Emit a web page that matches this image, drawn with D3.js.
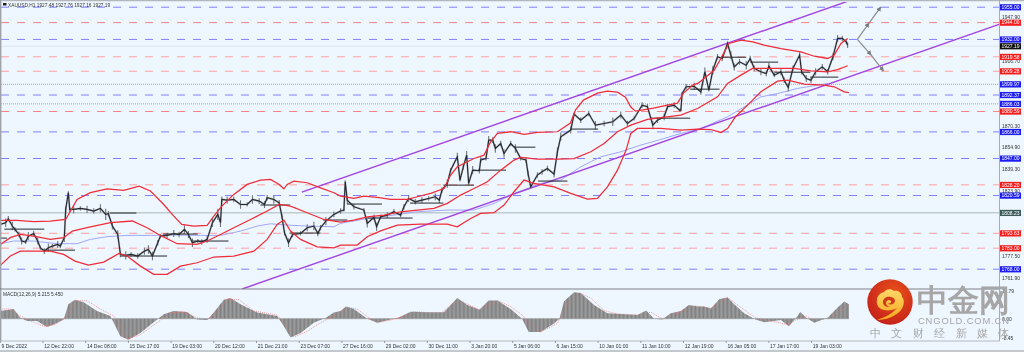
<!DOCTYPE html>
<html><head><meta charset="utf-8">
<script src="https://cdnjs.cloudflare.com/ajax/libs/d3/7.8.5/d3.min.js"></script>
<style>html,body{margin:0;padding:0;background:#eef7ff;overflow:hidden}svg{display:block;filter:blur(0.45px)}text{font-family:"Liberation Sans",sans-serif}</style>
</head><body><div id="c"></div>
<script>
// ---------- data ----------
const title = "XAUUSD,H1  1927.48 1927.76 1927.16 1927.19";
const macdTitle = "MACD(12,26,9) 5.215 5.450";
const timeLabels = ["9 Dec 2022","12 Dec 22:00","14 Dec 08:00","15 Dec 17:00","19 Dec 03:00","20 Dec 12:00","21 Dec 21:00","23 Dec 07:00","27 Dec 16:00","29 Dec 02:00","30 Dec 11:00","3 Jan 20:00","5 Jan 06:00","6 Jan 15:00","10 Jan 01:00","11 Jan 10:00","12 Jan 19:00","16 Jan 05:00","17 Jan 17:00","19 Jan 03:00"];
const timeLabelBars = [0,32,64,96,128,160,192,224,256,288,320,352,384,416,448,480,512,544,576,608];
const priceTicks = [1947.9,1916.7,1901.1,1870.3,1854.9,1839.3,1823.9,1777.5,1761.9];
const macdTicks = [11.79,0,-8.45];
const levelPrices = [1955,1944,1932,1919.58,1909.28,1899.97,1892.37,1886.03,1880.59,1866,1847,1828.2,1820.59,1808.23,1793.63,1783,1768];
const levelKinds  = ["b","r","b","rp","rp","d","bp","d","r","b","b","rp","b","g","rp","rp","b"];
const currentPrice = 1927.19;

const closeBars = [0,4,6,9,11,14,16,19,21,25,28,30,33,36,39,43,45,48,49,51,52,55,60,65,70,75,79,81,84,88,90,94,98,103,108,111,114,118,120,125,130,134,138,141,144,148,151,155,159,163,165,166,170,175,180,185,189,194,198,200,205,209,211,213,216,219,225,230,235,238,240,244,250,255,257.5,258.5,260,265,272.5,275,280,282,285,290,295,300,302.5,306,311,316,321,326,329,331,335,337.5,342.5,344.5,347,349.5,351,354,359,360,364,366,369,371,375,377.5,382.5,386,390,394,395.5,397.5,402.5,406,410,415,417.5,420,427.5,430,435,441,446,452.5,459,465,470,475,481,485,489,492.5,497.5,500,505,509,510,511,514,520,525,528,531,534,537.5,541,545,547.5,550,554,559,562,565,570,574,576,580,585,587.5,590.5,594,599,600.5,604,607.5,611,616,620,624,627.5,631,634,635];
const closeValues = [1800,1801.2,1804,1798.8,1796.4,1792.8,1788.1,1787.4,1791.6,1793.5,1788.1,1783.3,1780.9,1783.3,1784.5,1785.7,1784.5,1790.5,1810.7,1822.6,1810.7,1810.7,1811.4,1810.7,1809.5,1811.4,1807.1,1807.6,1798.8,1792.8,1778.6,1777.9,1778.6,1777.4,1780.9,1782.1,1777.4,1786.9,1791.6,1792.1,1793.5,1792.8,1796.4,1792.8,1786.9,1788.1,1787.4,1789.3,1801.2,1807.1,1801.2,1817.8,1817.3,1817.8,1814.2,1814.2,1817.8,1816.6,1814.2,1819,1817.8,1815.4,1805.9,1794,1786.9,1792.8,1793.5,1797.6,1798.8,1793.5,1797.6,1802.3,1807.1,1809.5,1810.2,1830.4,1817.3,1812.6,1810.2,1800.7,1805,1798.3,1805.4,1806.6,1809,1806.6,1812.6,1818.5,1816.1,1817.3,1818.5,1819.7,1817.3,1824.5,1829.2,1838.7,1848.2,1831.6,1841.1,1849.4,1829.2,1838.7,1838.3,1845.9,1847,1860.1,1860.1,1854.2,1857.7,1850.6,1857.7,1854.2,1847,1845.9,1836.3,1826.8,1835.2,1837.5,1839.9,1835.9,1851.8,1862.5,1867.3,1878.7,1874.4,1879.1,1870.8,1872,1873.2,1878,1872,1875.6,1885.1,1883.9,1870.8,1874.4,1876.8,1883.9,1885.1,1881.5,1881.5,1893.4,1898.2,1898.6,1894.6,1908.9,1895.8,1910,1919.6,1918.4,1929.1,1920.8,1912.4,1916,1913.6,1918.4,1911.3,1908.9,1907.7,1912.9,1906.5,1908.9,1902.9,1897.7,1911.3,1920.8,1908.9,1904.1,1902.9,1908.9,1912.4,1908.9,1919.6,1932.7,1932.7,1930.3,1927.9];
const wickRange = [2.5,3,2,3,1.5,2,2.5,1.5,3,2,2.5,1.5,2,3,1.5,2.5,1.5,3,2,1,2,3,1.5,2.5,2,3,4,2,2.5,3,2,3,1.5,2,2.5,3,3,2,1.5,2,2.5,2,3,2.5,3,1.5,2,2.5,3,4,3,2,2.5,2,3,1.5,3,2,2.5,2,3,2,1.5,2,3,2,1.5,2.5,3,2,2,3,2,2,1,1,3,2,1.5,3,2,3,1.5,2,2,1.5,2,2.5,2,2,1.5,2.5,2,2,3,1.5,3,1,2,3,1,3,2,2,1.5,3,2,3,2,3,2,3,1.5,2,2,1,2,2,2,2.5,3,3,2.5,1,2,2,3,2,3,2.5,2,1.5,2,2,3,2,2.5,2,2,1,1,1,2,2.5,2,3,1,3,2,2,1.5,3,2.5,2,3,2,2,2.5,2,2.5,1.5,2.5,2,3,2,2,2,2.5,2,2.5,2,2,2.5,2.5,2,1.5,2,2,1.5];

const upperBars = [0,12.5,25,37.5,49,57.5,67.5,80,92.5,104,112.5,122.5,130,136,145,155,160,166,175,185,195,202.5,209,212.5,215,220,230,240,250,255,265,272.5,282.5,292.5,305,312.5,322.5,332.5,337.5,342.5,355,362.5,367.5,372.5,382.5,392.5,402.5,417.5,427.3,431,437,447.5,455,462.5,468.5,472.5,476,489.5,500,507.5,512,519,523,535,540,546,555,564,572.5,585,600,610,620,625,630,635];
const upperValues = [1802.8,1802.8,1801.9,1802.4,1803.5,1817.8,1822.6,1825.4,1824.2,1827.3,1823.8,1814.2,1805.9,1800,1798.8,1799.2,1805.9,1813,1821.4,1828.5,1831.6,1832.1,1828.5,1825.4,1828.5,1830.9,1829.7,1826.1,1822.6,1820.2,1818.5,1820.2,1819.2,1817.8,1817.8,1819.7,1822.1,1825.6,1835.2,1841.1,1847,1849.4,1858.9,1864.9,1866.1,1864.2,1865.6,1866.1,1872.3,1881.5,1888.7,1893.7,1895.1,1894.4,1890.8,1883.7,1880.8,1883,1885.1,1886.5,1893.7,1899.4,1900.8,1910,1918.4,1929.1,1931.5,1930.3,1927.9,1925.5,1923.1,1920,1918.4,1920.8,1929.1,1932.7];
const middleBars = [0,7.5,15,25,37.5,47.5,54,65,82.5,99,110,120,132.5,147.5,155,165,175,187.5,200,209,217.5,230,242.5,255,265,275,287.5,300,312.5,325,335,345,355,365,375,385,390,402.5,417.5,430,442.5,452.5,462.5,472.5,485,510,522.5,537.5,545,555,563.75,580,595,607.5,620,627.5,635];
const middleValues = [1785.7,1790.5,1792.8,1791.6,1789.3,1790.5,1795.2,1797.6,1801.2,1802.4,1797.6,1792.1,1786.2,1785.7,1788.1,1792.8,1797.6,1803.5,1809.5,1814.2,1813,1808.3,1803.5,1801.6,1803,1805.4,1806.6,1809,1810.2,1811.4,1815,1820.9,1825.6,1830.4,1838.7,1845.9,1847.8,1846.6,1846.6,1847,1851.8,1857.7,1866.1,1870.8,1874.9,1878,1882.7,1891,1900.6,1906.5,1911.3,1911.3,1911.3,1909.6,1908.9,1910.5,1913.2];
const lowerBars = [0,7.5,15,25,37.5,47.5,56,66,77.5,89,95,105,115,125,135,147.5,160,175,190,200,207.5,212.5,217.5,225,237.5,250,255,267.5,275,285,297.5,315,335,342.5,352.5,360,370,377.5,385,392.5,400,415,427.5,440,447.5,455,462.5,469,472.5,477.5,495,510,522.5,532.5,540,545,551,560,570,582.5,590,602.5,617.5,625,632.5,636];
const lowerValues = [1770.7,1777.4,1780.9,1780.9,1780.9,1778.6,1773.8,1771,1773.1,1779.3,1777.4,1770.2,1764.3,1764.3,1770.2,1772.6,1776.7,1777.4,1780.9,1789.3,1800,1803.1,1795.2,1789.3,1784,1783.3,1785.2,1785.2,1791.2,1795.4,1799.5,1800.2,1800.2,1798.3,1804.2,1807.8,1808.3,1813.8,1823.3,1831.6,1829.2,1826.8,1822.1,1818,1818.5,1826.8,1838.7,1853,1864.9,1868.5,1868.5,1867.3,1868,1867.7,1865.6,1868.4,1876.8,1885.1,1894.6,1902.2,1902.9,1900.1,1899.4,1898.2,1894.6,1894.1];
const maBars = [0,10,25,42.5,57.5,67.5,80,95,112.5,130,150,165,180,192.5,202.5,215,230,250,255,275,295,312.5,335,355,370,385,405,420,435,450,465,480,495,510,525,545,557.5,570,582.5,597.5,620];
const maValues = [1786.2,1788.1,1788.1,1786.2,1786.2,1789.3,1791.2,1792.1,1792.1,1792.4,1792.1,1792.1,1795.2,1798.8,1800.4,1799.5,1798.8,1798.3,1800.7,1804.2,1806.6,1809,1810.2,1810.2,1814.9,1822.1,1829.2,1831.6,1841.1,1848.2,1851.8,1856.6,1860.6,1864.9,1868.4,1876.8,1883.9,1891,1893.4,1897,1900.6];

const pivotStart = [0,3,32,82,90,122,144,195,217,242,260,275,307,332,358,385,403,427,487,517,540,562,580,607];
const pivotEnd   = [5,33,56,102,125,148,171,217,240,260,286,309,332,355,379,401,425,448,517,539,559,583,607,628];
const pivotPrice = [1790.2,1796.6,1781.6,1808.1,1777.4,1793.1,1788.1,1813.8,1793.8,1803.1,1814.5,1804.5,1815.2,1828,1838.7,1855.1,1830.9,1868,1875.8,1896.5,1919.3,1915.8,1908.6,1905.1];

const channelUpperBars = [226,637.3], channelUpperValues = [1823,1960];
const channelLowerBars = [181.3,749], channelLowerValues = [1753.9,1942.9];
const arrowUpBars = [642.3,651,659.8], arrowUpValues = [1932,1943.6,1955];
const arrowDownBars = [642.3,652.5,661.8], arrowDownValues = [1932,1921,1909.6];

const histBars = [0,10,15,20,27.5,35,40,47.5,51,56,62.5,72.5,82.5,85,90,96,105,117.5,122.5,130,140,147.5,155,160,167.5,172.5,180,192.5,207.5,212.5,217.5,225,235,244,250,255,259,265,275,282.5,292.5,299,307.5,320,332.5,337.5,342.5,350,359,366,372.5,382.5,391,396,405,415,419,422.5,430,435,445,455,477.5,484,490,496,502.5,510,516,522.5,527.5,532.5,539,545,550,557.5,566,572.5,585,591,597.5,599.5,604,610,620,627.5,632.5,636];
const histValues = [3.3,4.1,0.4,-1,-1,-3.5,-2.5,-0.3,6.2,8.1,7,3.3,1.2,-1.7,-7.5,-9,-6.1,-0.3,1.9,3.3,2.9,-0.3,-0.6,2.6,8.1,8.8,6.2,2.6,1.2,-3.2,-8,-6.1,-1.7,0.4,2.6,3.3,5.2,4.1,0,-1.7,-0.3,0.6,3,2.8,2.8,5.9,8.8,5.9,3.8,7.8,7.8,4.1,0,-5.7,-5.7,-2,0,7.4,11.3,11,5.9,2.3,1.6,3.5,0,-0.3,2.3,3.3,5.8,5.2,5.2,4.4,8.4,9.1,6.2,2.3,-0.3,-1.5,-0.6,-3.2,1.2,2.9,0.4,-1.7,0.4,4.8,7.3,6.2];
const signalBars = [0,7.5,15,21,32.5,41,49,56,65,75,85,90,95,105,117.5,127.5,137.5,147.5,155,162.5,170,179,190,207.5,215,220,230,240,250,255,260,267.5,275,282.5,292.5,300,310,330,340,346,359,372.5,382.5,391,397.5,405,417.5,425,434,442.5,452.5,462.5,477.5,487.5,496,510,520,532.5,545,555,566,577.5,590,596,604,610,622.5,632.5,636];
const signalValues = [4.1,4.1,1.2,-0.7,-3.2,-2.5,0.4,7.7,7.7,4.1,1.2,-3.2,-8.7,-6.8,-1.7,2.6,2.9,0.4,-0.3,2.6,8.4,8.1,3.3,1.5,-3.9,-7.8,-5.4,-1.7,1.2,3,4.9,4.1,0.9,-1.7,-0.6,0.6,3,2.3,6.7,7.4,3.8,7.8,5.2,1.6,-2.8,-5.7,-2,5.9,11,8.8,3.5,2,1.6,2.8,0,3,5.5,4.5,9.1,4.8,0.4,-1,-2.5,-0.6,1.2,-0.6,0.4,4.8,6.2];

// ---------- scales ----------
const W=1024,H=352, paneR=999.5, sep=289, subBottom=341;
const x = d3.scaleLinear().domain([0,32]).range([0.3,43]);
const y = d3.scaleLinear().domain([1955,1768]).range([7.2,269.2]);
const my = d3.scaleLinear().domain([0,-8.45]).range([318.7,338.5]);
const zip=(a,b)=>a.map((v,i)=>[v,b[i]]);
const line=d3.line().x(d=>x(d[0])).y(d=>y(d[1]));
const mline=d3.line().x(d=>x(d[0])).y(d=>my(d[1]));

const svg=d3.select("#c").append("svg").attr("width",W).attr("height",H);
const defs=svg.append("defs");
defs.append("clipPath").attr("id","main").append("rect").attr("x",1).attr("y",2).attr("width",paneR-1).attr("height",sep-2);
svg.append("rect").attr("width",W).attr("height",H).attr("fill","#eef7ff");

const gMain=svg.append("g").attr("clip-path","url(#main)");
// levels
const levelStyle={b:["#8080ff",1,"8 8"],r:["#ff7f7f",1,"8 8"],rp:["#ff9f9f",1,"8 8"],bp:["#a8a8ff",1.4,"8 8"],d:["#9090f0",.9,"1 1"],g:["#a9b8b8",1,null]};
gMain.selectAll(".lv").data(zip(levelPrices,levelKinds)).join("line")
 .attr("x1",1).attr("x2",paneR).attr("y1",d=>y(d[0])).attr("y2",d=>y(d[0]))
 .attr("stroke",d=>levelStyle[d[1]][0]).attr("stroke-width",d=>levelStyle[d[1]][1]).attr("stroke-dasharray",d=>levelStyle[d[1]][2]);
gMain.append("line").attr("x1",1).attr("x2",paneR).attr("y1",y(currentPrice)).attr("y2",y(currentPrice)).attr("stroke","#dde4ea").attr("stroke-width",1);
// MA
gMain.append("path").attr("d",line(zip(maBars,maValues))).attr("fill","none").attr("stroke","#a0a8f5").attr("stroke-width",1);
// channel
[[channelUpperBars,channelUpperValues],[channelLowerBars,channelLowerValues]].forEach(c=>{
 gMain.append("path").attr("d",line(zip(c[0],c[1]))).attr("fill","none").attr("stroke","#a243e0").attr("stroke-width",1.4);
});
// candles: wicks and close path
const cl=zip(closeBars,closeValues);
gMain.selectAll(".wk").data(closeBars.map((b,i)=>[b,closeValues[i],wickRange[i]])).join("line")
 .attr("x1",d=>x(d[0])).attr("x2",d=>x(d[0])).attr("y1",d=>y(d[1]+d[2])).attr("y2",d=>y(d[1]-d[2]))
 .attr("stroke","#6f7478").attr("stroke-width",1.1);
gMain.append("path").attr("d",line(cl)).attr("fill","none").attr("stroke","#8f949a").attr("stroke-width",2).attr("opacity",.5);
gMain.append("path").attr("d",line(cl)).attr("fill","none").attr("stroke","#26292d").attr("stroke-width",1.15);
// pivot segments
gMain.selectAll(".pv").data(pivotStart.map((s,i)=>[s,pivotEnd[i],pivotPrice[i]])).join("line")
 .attr("x1",d=>x(d[0])).attr("x2",d=>x(d[1])).attr("y1",d=>y(d[2])).attr("y2",d=>y(d[2]))
 .attr("stroke","#25282b").attr("stroke-width",1);
// bollinger
[[upperBars,upperValues],[middleBars,middleValues],[lowerBars,lowerValues]].forEach(c=>{
 gMain.append("path").attr("d",line(zip(c[0],c[1]))).attr("fill","none").attr("stroke","#f02c38").attr("stroke-width",1.25);
});
// arrows
defs.append("marker").attr("id","ah").attr("viewBox","0 0 6 6").attr("refX",5).attr("refY",3).attr("markerWidth",5).attr("markerHeight",5).attr("orient","auto").attr("markerUnits","userSpaceOnUse")
 .append("path").attr("d","M0,0L6,3L0,6Z").attr("fill","#7c7c7c");
[[arrowUpBars,arrowUpValues],[arrowDownBars,arrowDownValues]].forEach(c=>{
 gMain.append("path").attr("d",line(zip(c[0],c[1]))).attr("fill","none").attr("stroke","#8c8c8c").attr("stroke-width",1.2).attr("marker-mid","url(#ah)").attr("marker-end","url(#ah)");
});

// title
svg.append("rect").attr("x",3).attr("y",3).attr("width",3.5).attr("height",2.5).attr("fill","#222");
svg.append("text").attr("x",8).attr("y",6.6).attr("font-size",4.8).attr("fill","#333").text(title);

// sub window
const pat=defs.append("pattern").attr("id","hs").attr("patternUnits","userSpaceOnUse").attr("width",x(1)-x(0)).attr("height",4);
pat.append("rect").attr("width",x(1)-x(0)).attr("height",4).attr("fill","#a4a6a8");
pat.append("rect").attr("width",.8).attr("height",4).attr("fill","#808080");
svg.append("path").attr("fill","url(#hs)").attr("d",d3.area().x(d=>x(d[0])).y0(my(0)).y1(d=>my(d[1]))(zip(histBars,histValues)));
svg.append("line").attr("x1",1).attr("x2",x(636)).attr("y1",my(0)).attr("y2",my(0)).attr("stroke","#9a9a9a").attr("stroke-width",.8);
svg.append("path").attr("d",mline(zip(signalBars,signalValues))).attr("fill","none").attr("stroke","#ee7070").attr("stroke-width",.7).attr("stroke-dasharray","1 1");
svg.append("text").attr("x",3).attr("y",296).attr("font-size",4.8).attr("fill","#333").text(macdTitle);

// frame
svg.append("line").attr("x1",0).attr("x2",W).attr("y1",.5).attr("y2",.5).attr("stroke","#b4b8bc").attr("stroke-width",1.5);
svg.append("line").attr("x1",.7).attr("x2",.7).attr("y1",0).attr("y2",subBottom).attr("stroke","#9ea2a6").attr("stroke-width",1.4);
svg.append("line").attr("x1",0).attr("x2",paneR).attr("y1",sep).attr("y2",sep).attr("stroke","#7d8084").attr("stroke-width",1);
svg.append("line").attr("x1",0).attr("x2",paneR).attr("y1",subBottom).attr("y2",subBottom).attr("stroke","#b4b8bc").attr("stroke-width",1);
svg.append("line").attr("x1",paneR).attr("x2",paneR).attr("y1",0).attr("y2",subBottom).attr("stroke","#a8acb0").attr("stroke-width",1);
svg.append("line").attr("x1",0).attr("x2",W).attr("y1",351).attr("y2",351).attr("stroke","#b4b8bc").attr("stroke-width",1.5);

// time axis
svg.selectAll(".tt").data(timeLabelBars).join("line").attr("x1",d=>x(d)).attr("x2",d=>x(d)).attr("y1",subBottom).attr("y2",343).attr("stroke","#777").attr("stroke-width",.7);
svg.selectAll(".tl").data(zip(timeLabelBars,timeLabels)).join("text").attr("x",d=>x(d[0])+1.2).attr("y",348).attr("font-size",5).attr("fill","#333").text(d=>d[1]);

// price axis
svg.selectAll(".pt").data(priceTicks).join("text").attr("x",1002).attr("y",d=>y(d)+1.8).attr("font-size",5).attr("fill","#333").text(d=>d.toFixed(2));
svg.selectAll(".mt").data(macdTicks).join("text").attr("x",1002).attr("y",d=>my(d)+1.8).attr("font-size",5).attr("fill","#333").text(d=>d.toFixed(2));
// tags
const tagColor={b:"#1c1cf5",bp:"#1c1cf5",d:"#1c1cf5",r:"#f51c1c",rp:"#f51c1c",g:"#3b5a5a"};
const tags=zip(levelPrices,levelKinds).map(d=>[d[0],tagColor[d[1]]]).concat([[currentPrice,"#111"]]);
const tg=svg.selectAll(".tag").data(tags).join("g").attr("transform",d=>`translate(1000,${y(d[0])})`);
tg.append("rect").attr("x",0).attr("y",-3).attr("width",21).attr("height",6.2).attr("fill",d=>d[1]);
tg.append("text").attr("x",10.5).attr("y",1.8).attr("text-anchor","middle").attr("font-size",5).attr("fill","#fff").text(d=>d[0].toFixed(2));

// watermark
const grad=defs.append("radialGradient").attr("id","lg").attr("cx","60%").attr("cy","30%").attr("r","75%");
grad.append("stop").attr("offset","0%").attr("stop-color","#e8501a");
grad.append("stop").attr("offset","100%").attr("stop-color","#c4201a");
const gold=defs.append("linearGradient").attr("id","gd").attr("x1","0").attr("y1","0").attr("x2","0").attr("y2","1");
gold.append("stop").attr("offset","0%").attr("stop-color","#ffd76a");
gold.append("stop").attr("offset","100%").attr("stop-color","#f5a81c");
const wm=svg.append("g");
const lg=wm.append("g").attr("transform","translate(890,302)");
lg.append("circle").attr("r",22.7).attr("fill","url(#lg)");
lg.append("path").attr("fill","url(#gd)").attr("d","M-13,18C-4,15 3,11 7,6C4,8 -2,9 -6,8C-11,7 -14,3 -13,-2C-13,-6 -10,-9 -6,-10C-4,-13 1,-14 4,-11C8,-12 12,-9 12,-5C15,-2 14,4 11,8C6,14 -3,18 -13,18Z");
lg.append("path").attr("fill","#cf3a1a").attr("d","M-7,0C-7,-4 -3,-6 1,-5C5,-4 6,-1 4,1C2,3 -1,3 -2,1C-1,2 2,1 1,-1C0,-3 -4,-2 -4,1C-4,3 -2,5 1,4C-3,6 -7,4 -7,0Z");
wm.append("text").attr("x",917).attr("y",311).attr("font-family","'Noto Sans CJK SC'").attr("font-weight",900).attr("font-size",31).attr("fill","#a6a6a6").text("中金网");
wm.append("text").attr("x",918).attr("y",323.5).attr("font-size",9.4).attr("letter-spacing",.85).attr("fill","#a6a6a6").text("CNGOLD.COM.CN");
wm.append("text").attr("x",870).attr("y",337).attr("font-family","'Noto Sans CJK SC'").attr("font-size",11).attr("letter-spacing",10.4).attr("fill","#a6a6a6").text("中文财经新媒体");
</script></body></html>
